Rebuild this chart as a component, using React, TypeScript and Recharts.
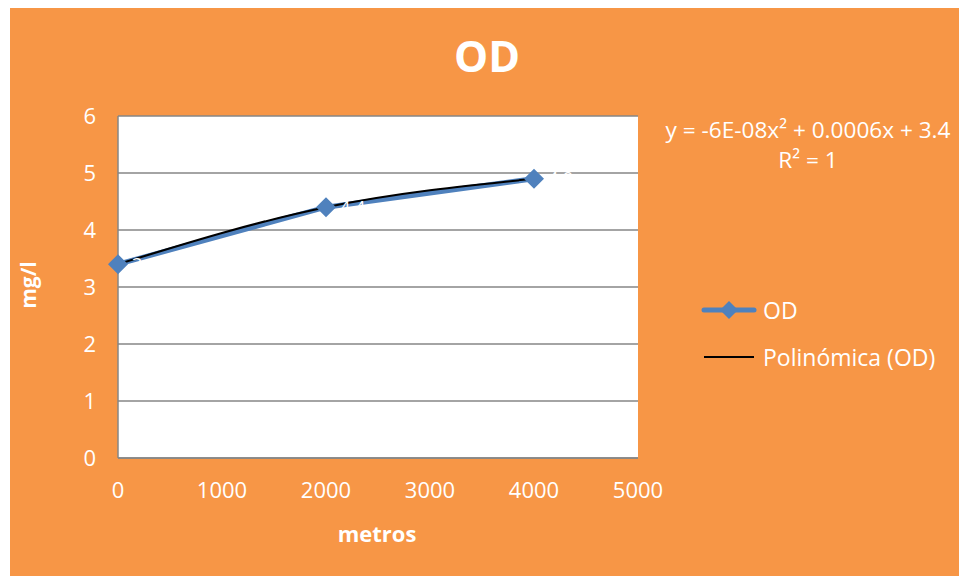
import { LineChart, Line, XAxis, YAxis, CartesianGrid, Legend, LabelList } from "recharts";

const distances = [0, 2000, 4000];
const odValues = [3.4, 4.4, 4.9];
const xTicks = [0, 1000, 2000, 3000, 4000, 5000];
const yTicks = [0, 1, 2, 3, 4, 5, 6];

const data = distances.map((d, i) => ({ metros: d, OD: odValues[i], trend: odValues[i] }));

const ORANGE = "#F79646";
const BLUE = "#4F81BD";
const GRID = "#868686";
const FONT = "'Open Sans', sans-serif";

const Diamond = (props: any) => {
  const { cx, cy } = props;
  if (cx == null || cy == null) return null;
  const r = 10;
  return (
    <polygon
      points={`${cx},${cy - r} ${cx + r},${cy} ${cx},${cy + r} ${cx - r},${cy}`}
      fill={BLUE}
    />
  );
};

const LegendBox = (props: any) => {
  const items = props.payload || [];
  return (
    <div style={{ fontFamily: FONT, fontSize: 23, color: "white", textAlign: "left" }}>
      {items.map((it: any) => {
        const isOD = it.dataKey === "OD";
        return (
          <div key={it.value} style={{ display: "flex", alignItems: "center", height: 47 }}>
            <svg width={58} height={24}>
              {isOD ? (
                <g>
                  <line x1={3} y1={12} x2={53} y2={12} stroke={BLUE} strokeWidth={5} strokeLinecap="round" />
                  <polygon points="28,3 37,12 28,21 19,12" fill={BLUE} />
                </g>
              ) : (
                <line x1={3} y1={12} x2={53} y2={12} stroke="#000" strokeWidth={2} />
              )}
            </svg>
            <span style={{ marginLeft: 4 }}>{it.value}</span>
          </div>
        );
      })}
    </div>
  );
};

export default function App() {
  return (
    <div style={{ position: "fixed", left: 10, top: 8, right: 0, bottom: 0, background: ORANGE }}>
      <LineChart width={949} height={568} data={data} margin={{ top: 108, right: 321, bottom: 0, left: 0 }}>
        <CartesianGrid vertical={false} horizontal stroke={GRID} strokeWidth={1.5} fill="white" />
        <XAxis
          dataKey="metros"
          type="number"
          domain={[0, 5000]}
          ticks={xTicks}
          height={118}
          tickSize={0}
          tickMargin={24}
          axisLine={{ stroke: GRID, strokeWidth: 1.5 }}
          tick={{ fill: "white", fontSize: 22, fontFamily: FONT }}
        />
        <YAxis
          type="number"
          domain={[0, 6]}
          ticks={yTicks}
          width={108}
          tickSize={0}
          tickMargin={22}
          axisLine={{ stroke: GRID, strokeWidth: 1.5 }}
          tick={{ fill: "white", fontSize: 22, fontFamily: FONT }}
        />
        <Line
          dataKey="OD"
          name="OD"
          type="linear"
          stroke={BLUE}
          strokeWidth={5}
          dot={<Diamond />}
          activeDot={false}
          isAnimationActive={false}
        >
          <LabelList dataKey="OD" position="right" offset={14} fill="white" fontSize={18} fontFamily={FONT} />
        </Line>
        <Line
          dataKey="trend"
          name="Polinómica (OD)"
          type="natural"
          stroke="#000"
          strokeWidth={2}
          dot={false}
          activeDot={false}
          isAnimationActive={false}
        />
        <Legend
          layout="horizontal"
          align="center"
          verticalAlign="middle"
          content={<LegendBox />}
          wrapperStyle={{ position: "absolute", left: 691, top: 278, width: 250 }}
        />
      </LineChart>
      <div style={{ position: "absolute", left: 477, top: 47, transform: "translate(-50%,-50%)", fontFamily: FONT, fontWeight: 700, fontSize: 43, color: "white" }}>
        OD
      </div>
      <div style={{ position: "absolute", left: 798, top: 137, transform: "translate(-50%,-50%)", fontFamily: FONT, fontSize: 22.6, color: "white", textAlign: "center", lineHeight: "30px", whiteSpace: "nowrap" }}>
        <div>y = -6E-08x² + 0.0006x + 3.4</div>
        <div>R² = 1</div>
      </div>
      <div style={{ position: "absolute", left: 18, top: 277, transform: "translate(-50%,-50%) rotate(-90deg)", fontFamily: FONT, fontWeight: 700, fontSize: 21, color: "white", whiteSpace: "nowrap" }}>
        mg/l
      </div>
      <div style={{ position: "absolute", left: 367, top: 525, transform: "translate(-50%,-50%)", fontFamily: FONT, fontWeight: 700, fontSize: 22, color: "white" }}>
        metros
      </div>
    </div>
  );
}
